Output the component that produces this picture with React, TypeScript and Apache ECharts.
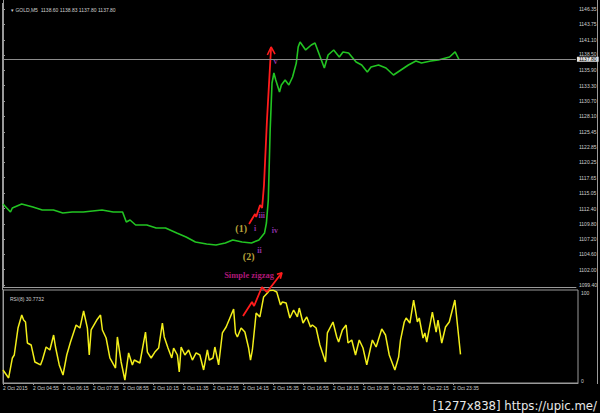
import React, { useEffect, useRef } from "react";
import * as echarts from "echarts";

// ---- data (bar index from 2 Oct 03:35, M5 bars) ----
const PRICE_IDX = [0, 4, 5, 10, 16, 21, 27, 32, 37, 43, 48, 53, 59, 64, 66, 68, 71, 77, 82, 87, 93, 98, 103, 109, 114, 119, 123, 128, 133, 137, 140, 141, 142, 143, 144, 145, 146, 148, 149, 151, 153, 155, 157, 158, 159, 162, 165, 167, 169, 172, 174, 177, 180, 182, 185, 189, 192, 195, 197, 201, 205, 209, 213, 217, 221, 224, 229, 233, 237, 239, 242, 244];
const PRICE_CLOSE = [1113.18, 1111.82, 1112.5, 1113.18, 1112.67, 1112.16, 1112.16, 1111.65, 1111.82, 1111.82, 1111.99, 1112.16, 1111.82, 1111.82, 1110.12, 1110.46, 1109.61, 1109.61, 1109.1, 1109.1, 1108.25, 1107.57, 1106.72, 1106.38, 1106.21, 1106.55, 1107.06, 1106.72, 1106.55, 1107.06, 1108.25, 1109.95, 1113.86, 1125.77, 1133.76, 1135.46, 1134.27, 1132.23, 1133.42, 1134.27, 1133.42, 1134.78, 1137.16, 1139.89, 1140.74, 1139.38, 1140.23, 1140.57, 1138.87, 1136.31, 1138.52, 1139.38, 1138.18, 1139.04, 1138.87, 1137.33, 1136.82, 1135.63, 1136.48, 1136.82, 1136.31, 1135.12, 1135.97, 1136.82, 1137.5, 1137.16, 1137.5, 1137.67, 1138.01, 1138.18, 1139.04, 1137.8];
const CURRENT_PRICE = 1137.8;

const RSI_IDX = [0, 3, 5, 6, 8, 10, 11, 12, 13, 15, 17, 20, 21, 23, 25, 27, 28, 30, 32, 34, 36, 39, 41, 43, 45, 46, 47, 50, 52, 53, 55, 57, 60, 61, 63, 65, 67, 69, 70, 73, 76, 77, 79, 81, 83, 85, 86, 88, 90, 91, 93, 94, 95, 97, 99, 101, 103, 105, 107, 109, 110, 112, 113, 115, 117, 119, 123, 124, 125, 127, 129, 131, 132, 133, 135, 137, 139, 141, 142, 144, 146, 148, 149, 151, 153, 155, 157, 158, 160, 162, 164, 165, 167, 169, 172, 173, 176, 178, 179, 181, 183, 184, 186, 188, 190, 192, 194, 196, 197, 199, 202, 204, 206, 209, 211, 212, 214, 215, 217, 219, 221, 222, 224, 225, 226, 229, 231, 232, 234, 236, 238, 241, 244];
const RSI_VAL = [14.0, 5.4, 26.9, 30.1, 59.1, 73.1, 67.7, 65.6, 43.0, 40.9, 22.6, 19.4, 24.7, 38.7, 35.5, 51.6, 38.7, 19.4, 8.6, 30.1, 44.1, 62.4, 59.1, 77.4, 59.1, 30.1, 57.0, 67.7, 73.1, 57.0, 48.4, 26.9, 16.1, 49.5, 22.6, 3.2, 32.3, 19.4, 24.7, 21.5, 54.8, 33.3, 26.9, 33.3, 37.6, 64.5, 49.5, 37.6, 26.9, 37.6, 30.1, 11.8, 38.7, 30.1, 35.5, 24.7, 32.3, 30.1, 14.0, 35.5, 24.7, 26.9, 38.7, 19.4, 53.8, 60.2, 79.6, 53.8, 49.5, 59.1, 54.8, 37.6, 24.7, 35.5, 75.3, 71.0, 92.5, 96.8, 99.5, 99.8, 97.8, 83.9, 87.1, 86.0, 69.9, 78.5, 71.0, 80.6, 64.5, 71.0, 60.2, 62.4, 59.1, 40.9, 22.6, 53.8, 65.6, 49.5, 44.1, 57.0, 62.4, 43.0, 46.2, 30.1, 46.2, 37.6, 19.4, 37.6, 46.2, 38.7, 58.1, 51.6, 30.1, 14.0, 28.0, 46.2, 65.6, 69.9, 64.5, 89.2, 65.6, 69.9, 48.4, 53.8, 44.1, 76.3, 54.8, 67.7, 43.0, 60.2, 65.6, 89.2, 30.8];
const RSI_LAST = "30.7732";

const PRICE_TICKS = [1146.35, 1143.75, 1141.1, 1138.5, 1135.9, 1133.3, 1130.7, 1128.1, 1125.45, 1122.85, 1120.25, 1117.65, 1115.05, 1112.4, 1109.8, 1107.2, 1104.6, 1102.0, 1099.4];
const TIME_TICKS = [0, 16, 32, 48, 64, 80, 96, 112, 128, 144, 160, 176, 192, 208, 224, 240];
const TIME_LABELS = ["2 Oct 2015", "2 Oct 04:55", "2 Oct 06:15", "2 Oct 07:35", "2 Oct 08:55", "2 Oct 10:15", "2 Oct 11:35", "2 Oct 12:55", "2 Oct 14:15", "2 Oct 15:35", "2 Oct 16:55", "2 Oct 18:15", "2 Oct 19:35", "2 Oct 20:55", "2 Oct 22:15", "2 Oct 23:35"];

// hand-drawn annotations (data coordinates)
const ZIG_MAIN_IDX = [131.7, 134.9, 135.5, 137.6, 138.7, 139.7, 141.3, 143.5];
const ZIG_MAIN_PRICE = [1109.78, 1111.48, 1110.97, 1113.01, 1112.5, 1116.41, 1127.47, 1139.89];
const ARROW_MAIN_IDX = [141.5, 143.5, 145.6];
const ARROW_MAIN_PRICE = [1138.52, 1139.89, 1138.69];
const ZIG_RSI_IDX = [128, 132.8, 133.9, 138.1, 140.8, 148.5];
const ZIG_RSI_VAL = [72.0, 87.1, 82.8, 103.2, 97.8, 118.0];
const ARROW_RSI_IDX = [146.1, 148.8, 147.9];
const ARROW_RSI_VAL = [117.0, 118.5, 112.0];

const LABEL_TEXT = ["(1)", "(2)", "i", "ii", "iii", "iv", "v", "Simple zigzag"];
const LABEL_IDX = [127.5, 131.5, 134.9, 137.3, 138.5, 145.5, 145.8, 131.7];
const LABEL_PRICE = [1108.93, 1104.33, 1108.93, 1105.35, 1111.14, 1108.59, 1137.5, 1101.1];
const LABEL_KIND = ["wave", "wave", "sub", "sub", "sub", "sub", "sub", "title"];

const pairs = (a: number[], b: number[]) => a.map((v, i) => [v, b[i]]);

export default function App() {
  const ref = useRef<HTMLDivElement>(null);
  useEffect(() => {
    if (!ref.current) return;
    const chart = echarts.init(ref.current, undefined, { renderer: "svg" });
    const axisGray = "#9a9a9a";
    const textGray = "#cfcfcf";
    const kindStyle: Record<string, any> = {
      wave: { color: "#e3cf4a", fontSize: 10, fontWeight: "bold", fontFamily: "Liberation Serif" },
      sub: { color: "#b03fd0", fontSize: 8, fontWeight: "bold", fontFamily: "Liberation Serif" },
      title: { color: "#de1f96", fontSize: 8.5, fontWeight: "bold", fontFamily: "Liberation Serif" },
    };
    const maxX = 575 / 1.875;
    chart.setOption({
      animation: false,
      backgroundColor: "#000",
      title: [
        { text: "▾ GOLD,M5  1138.60 1138.83 1137.80 1137.80", left: 6, top: 2, textStyle: { color: textGray, fontSize: 5, fontWeight: "normal", fontFamily: "Liberation Sans" } },
        { text: "RSI(8) " + RSI_LAST, left: 5, top: 291, textStyle: { color: textGray, fontSize: 5, fontWeight: "normal", fontFamily: "Liberation Sans" } },
      ],
      grid: [
        { left: 3, right: 22, top: 0, height: 287 },
        { left: 3, right: 22, top: 290, height: 93, show: true, borderColor: axisGray, borderWidth: 1 },
      ],
      xAxis: [
        { type: "value", gridIndex: 0, min: 0, max: maxX, axisLine: { show: true, lineStyle: { color: axisGray } }, axisTick: { show: false }, axisLabel: { show: false }, splitLine: { show: false } },
        {
          type: "value", gridIndex: 1, min: 0, max: maxX,
          axisLine: { show: true, lineStyle: { color: axisGray } },
          axisTick: { show: true, customValues: TIME_TICKS, length: 2, lineStyle: { color: axisGray } },
          axisLabel: { customValues: TIME_TICKS, formatter: (v: number) => TIME_LABELS[TIME_TICKS.indexOf(Math.round(v))] ?? "", color: textGray, fontSize: 5, fontFamily: "Liberation Sans", align: "left", margin: 2 },
          splitLine: { show: false },
        },
      ],
      yAxis: [
        {
          type: "value", gridIndex: 0, position: "right", min: 1099.06, max: 1147.88,
          axisLine: { show: true, lineStyle: { color: axisGray } },
          axisTick: { show: true, customValues: PRICE_TICKS, length: 2, lineStyle: { color: axisGray } },
          axisLabel: { customValues: PRICE_TICKS, formatter: (v: number) => (Math.abs(v - 1138.5) < 0.01 ? "" : v.toFixed(2)), color: textGray, fontSize: 5, lineHeight: 5, fontFamily: "Liberation Sans", margin: 3 },
          splitLine: { show: false },
        },
        {
          type: "value", gridIndex: 1, position: "right", min: 0, max: 100,
          axisLine: { show: true, lineStyle: { color: axisGray } },
          axisTick: { show: false },
          axisLabel: { customValues: [0, 100], color: textGray, fontSize: 5, fontFamily: "Liberation Sans", margin: 3, verticalAlignMaxLabel: "top", verticalAlignMinLabel: "bottom" },
          splitLine: { show: false },
        },
      ],
      series: [
        {
          type: "line", xAxisIndex: 0, yAxisIndex: 0, data: pairs(PRICE_IDX, PRICE_CLOSE), showSymbol: false, symbol: "none",
          lineStyle: { color: "#22c422", width: 1.6 }, z: 2,
          markLine: {
            silent: true, symbol: "none", animation: false,
            lineStyle: { color: "#8c8c8c", type: "solid", width: 1 },
            label: {
              position: "end", distance: 1, formatter: "{t|1138.50}\n{b|" + CURRENT_PRICE.toFixed(2) + "}",
              rich: {
                t: { color: textGray, fontSize: 5, lineHeight: 5, fontFamily: "Liberation Sans", padding: [0, 2, 0, 2] },
                b: { color: "#000", backgroundColor: "#e6e6e6", fontSize: 5, lineHeight: 6, fontFamily: "Liberation Sans", padding: [0, 2, 0, 2] },
              },
              align: "left", verticalAlign: "bottom", offset: [0, 3],
            },
            data: [{ yAxis: CURRENT_PRICE }],
          },
        },
        { type: "line", xAxisIndex: 1, yAxisIndex: 1, data: pairs(RSI_IDX, RSI_VAL), symbol: "none", lineStyle: { color: "#f2ee1a", width: 1.5 }, z: 2 },
        { type: "line", xAxisIndex: 0, yAxisIndex: 0, data: pairs(ZIG_MAIN_IDX, ZIG_MAIN_PRICE), symbol: "none", lineStyle: { color: "#ff1c1c", width: 1.8 }, z: 4 },
        { type: "line", xAxisIndex: 0, yAxisIndex: 0, data: pairs(ARROW_MAIN_IDX, ARROW_MAIN_PRICE), symbol: "none", lineStyle: { color: "#ff1c1c", width: 1.6 }, z: 4 },
        { type: "line", xAxisIndex: 1, yAxisIndex: 1, clip: false, data: pairs(ZIG_RSI_IDX, ZIG_RSI_VAL), symbol: "none", lineStyle: { color: "#ff1c1c", width: 1.8 }, z: 4 },
        { type: "line", xAxisIndex: 1, yAxisIndex: 1, clip: false, data: pairs(ARROW_RSI_IDX, ARROW_RSI_VAL), symbol: "none", lineStyle: { color: "#ff1c1c", width: 1.6 }, z: 4 },
        {
          type: "scatter", xAxisIndex: 0, yAxisIndex: 0, symbolSize: 0, z: 5, clip: false,
          data: LABEL_TEXT.map((t, i) => ({ name: t, value: [LABEL_IDX[i], LABEL_PRICE[i]], label: kindStyle[LABEL_KIND[i]] })),
          label: { show: true, position: "inside", formatter: "{b}" },
        },
      ],
      graphic: [
        { type: "line", shape: { x1: 2.5, y1: 3, x2: 2.5, y2: 290 }, style: { stroke: axisGray, lineWidth: 1 } },
        { type: "line", shape: { x1: 597.5, y1: 0, x2: 597.5, y2: 384 }, style: { stroke: axisGray, lineWidth: 1 } },
        { type: "text", right: 3, bottom: 1, style: { text: "[1277x838] https://upic.me/", fill: "#e8e8e8", fontSize: 13, fontFamily: "DejaVu Sans Condensed" } },
      ],
    });
    return () => chart.dispose();
  }, []);
  return <div ref={ref} style={{ position: "fixed", left: 0, top: 0, width: 600, height: 413, background: "#000" }} />;
}
